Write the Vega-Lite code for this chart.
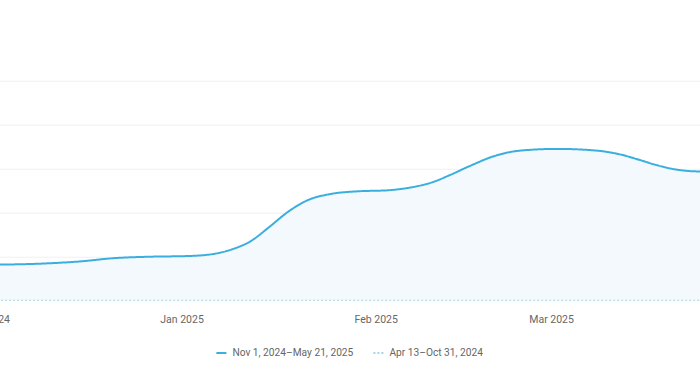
{
  "$schema": "https://vega.github.io/schema/vega-lite/v6.json",
  "width": 751.6,
  "height": 220,
  "autosize": {"type": "none"},
  "padding": {"left": -12.6, "top": 80.7, "right": -39, "bottom": 75.3},
  "background": "white",
  "config": {"view": {"stroke": null}, "font": "Roboto"},
  "data": {
    "values": [
      {"date": "2024-11-30", "value": 16.3, "series": "Nov 1, 2024–May 21, 2025"},
      {"date": "2024-12-03", "value": 16.4, "series": "Nov 1, 2024–May 21, 2025"},
      {"date": "2024-12-10", "value": 16.9, "series": "Nov 1, 2024–May 21, 2025"},
      {"date": "2024-12-16", "value": 17.9, "series": "Nov 1, 2024–May 21, 2025"},
      {"date": "2024-12-21", "value": 19.3, "series": "Nov 1, 2024–May 21, 2025"},
      {"date": "2024-12-27", "value": 20.0, "series": "Nov 1, 2024–May 21, 2025"},
      {"date": "2025-01-02", "value": 20.3, "series": "Nov 1, 2024–May 21, 2025"},
      {"date": "2025-01-06", "value": 21.2, "series": "Nov 1, 2024–May 21, 2025"},
      {"date": "2025-01-09", "value": 23.3, "series": "Nov 1, 2024–May 21, 2025"},
      {"date": "2025-01-12", "value": 27.0, "series": "Nov 1, 2024–May 21, 2025"},
      {"date": "2025-01-15", "value": 33.5, "series": "Nov 1, 2024–May 21, 2025"},
      {"date": "2025-01-18", "value": 40.4, "series": "Nov 1, 2024–May 21, 2025"},
      {"date": "2025-01-21", "value": 45.5, "series": "Nov 1, 2024–May 21, 2025"},
      {"date": "2025-01-25", "value": 48.6, "series": "Nov 1, 2024–May 21, 2025"},
      {"date": "2025-01-29", "value": 49.7, "series": "Nov 1, 2024–May 21, 2025"},
      {"date": "2025-02-03", "value": 50.2, "series": "Nov 1, 2024–May 21, 2025"},
      {"date": "2025-02-07", "value": 51.7, "series": "Nov 1, 2024–May 21, 2025"},
      {"date": "2025-02-10", "value": 53.8, "series": "Nov 1, 2024–May 21, 2025"},
      {"date": "2025-02-13", "value": 57.3, "series": "Nov 1, 2024–May 21, 2025"},
      {"date": "2025-02-16", "value": 61.2, "series": "Nov 1, 2024–May 21, 2025"},
      {"date": "2025-02-20", "value": 65.8, "series": "Nov 1, 2024–May 21, 2025"},
      {"date": "2025-02-24", "value": 68.2, "series": "Nov 1, 2024–May 21, 2025"},
      {"date": "2025-03-02", "value": 69.0, "series": "Nov 1, 2024–May 21, 2025"},
      {"date": "2025-03-08", "value": 68.3, "series": "Nov 1, 2024–May 21, 2025"},
      {"date": "2025-03-12", "value": 66.5, "series": "Nov 1, 2024–May 21, 2025"},
      {"date": "2025-03-15", "value": 64.1, "series": "Nov 1, 2024–May 21, 2025"},
      {"date": "2025-03-18", "value": 61.5, "series": "Nov 1, 2024–May 21, 2025"},
      {"date": "2025-03-21", "value": 59.6, "series": "Nov 1, 2024–May 21, 2025"},
      {"date": "2025-03-24", "value": 58.8, "series": "Nov 1, 2024–May 21, 2025"},
      {"date": "2025-03-29", "value": 58.6, "series": "Nov 1, 2024–May 21, 2025"},
      {"date": "2024-11-30", "value": 0, "series": "Apr 13–Oct 31, 2024"},
      {"date": "2024-12-15", "value": 0, "series": "Apr 13–Oct 31, 2024"},
      {"date": "2025-01-01", "value": 0, "series": "Apr 13–Oct 31, 2024"},
      {"date": "2025-01-15", "value": 0, "series": "Apr 13–Oct 31, 2024"},
      {"date": "2025-02-01", "value": 0, "series": "Apr 13–Oct 31, 2024"},
      {"date": "2025-02-15", "value": 0, "series": "Apr 13–Oct 31, 2024"},
      {"date": "2025-03-01", "value": 0, "series": "Apr 13–Oct 31, 2024"},
      {"date": "2025-03-15", "value": 0, "series": "Apr 13–Oct 31, 2024"},
      {"date": "2025-03-29", "value": 0, "series": "Apr 13–Oct 31, 2024"}
    ]
  },
  "encoding": {
    "x": {
      "field": "date",
      "type": "temporal",
      "scale": {
        "type": "utc",
        "domain": [
          {"year": 2024, "month": 12, "date": 1, "utc": true},
          {"year": 2025, "month": 3, "date": 31, "utc": true}
        ]
      },
      "axis": {
        "title": null,
        "format": "%b %Y",
        "tickCount": {"interval": "month", "step": 1},
        "grid": false,
        "ticks": false,
        "domain": false,
        "labelPadding": 14,
        "labelColor": "#666666",
        "labelFontSize": 10.5,
        "labelFont": "Roboto",
        "labelFlush": false,
        "labelOverlap": false,
        "labelBound": false
      }
    },
    "y": {
      "field": "value",
      "type": "quantitative",
      "scale": {"domain": [0, 100]},
      "axis": {
        "title": null,
        "values": [20, 40, 60, 80, 100],
        "grid": true,
        "gridColor": "#f0f0f0",
        "gridWidth": 1,
        "labels": false,
        "ticks": false,
        "domain": false
      }
    }
  },
  "layer": [
    {
      "transform": [{"filter": "datum.series === 'Nov 1, 2024–May 21, 2025'"}],
      "mark": {"type": "area", "interpolate": "monotone", "color": "#f3f9fd", "clip": true}
    },
    {
      "mark": {"type": "line", "interpolate": "monotone", "strokeWidth": 2, "clip": true},
      "encoding": {
        "color": {
          "field": "series",
          "type": "nominal",
          "scale": {
            "domain": ["Nov 1, 2024–May 21, 2025", "Apr 13–Oct 31, 2024"],
            "range": ["#3aaede", "#a6d5ea"]
          },
          "legend": {
            "title": null,
            "orient": "none",
            "legendX": 228,
            "legendY": 266,
            "direction": "horizontal",
            "symbolType": "stroke",
            "symbolSize": 100,
            "symbolStrokeWidth": 2,
            "labelFontSize": 10.2,
            "labelFont": "Roboto",
            "labelColor": "#666666",
            "columnPadding": 16,
            "labelOffset": 5
          }
        },
        "strokeDash": {
          "field": "series",
          "type": "nominal",
          "scale": {
            "domain": ["Nov 1, 2024–May 21, 2025", "Apr 13–Oct 31, 2024"],
            "range": [[1, 0], [2, 2]]
          },
          "legend": {
            "title": null,
            "orient": "none",
            "legendX": 228,
            "legendY": 266,
            "direction": "horizontal",
            "symbolType": "stroke",
            "symbolSize": 100,
            "symbolStrokeWidth": 2,
            "labelFontSize": 10.2,
            "labelFont": "Roboto",
            "labelColor": "#666666",
            "columnPadding": 16,
            "labelOffset": 5
          }
        }
      }
    }
  ]
}
